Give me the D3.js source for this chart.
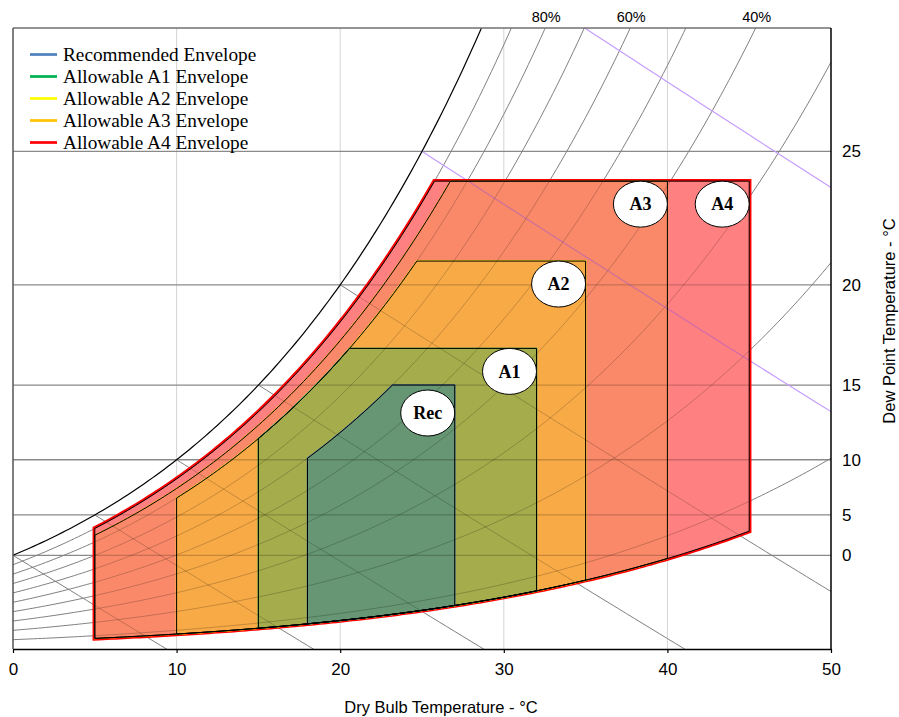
<!DOCTYPE html>
<html>
<head>
<meta charset="utf-8">
<script src="https://cdn.jsdelivr.net/npm/d3@7"></script>
<style>
  body { margin: 0; background: #fff; }
  svg { display: block; }
</style>
</head>
<body>
<svg id="chart" width="899" height="717"></svg>
<script>
// ---- Envelope definitions (ASHRAE thermal guideline classes) ----
const envelopeKeys  = ["Rec", "A1", "A2", "A3", "A4"];
const legendLabels  = ["Recommended Envelope", "Allowable A1 Envelope", "Allowable A2 Envelope",
                       "Allowable A3 Envelope", "Allowable A4 Envelope"];
const legendColors  = ["#4f81bd", "#00b050", "#ffff00", "#ffc000", "#ff0000"];
const fillColors    = ["#669673", "#a5ac4b", "#f8aa46", "#f98968", "#ff8080"];
const dryBulbMin    = [18, 15, 10, 5, 5];     // °C
const dryBulbMax    = [27, 32, 35, 40, 45];   // °C
const dewPointMax   = [15, 17, 21, 24, 24];   // °C
const rhMax         = [60, 80, 80, 85, 90];   // %
const rhMin         = [8, 8, 8, 8, 8];        // %

// ---- Chart grid ----
const rhCurves      = [10, 20, 30, 40, 50, 60, 70, 80, 90];
const rhLabelValues = [80, 60, 40];
const wetBulbGray   = [0, 5, 10, 15, 20];
const wetBulbPurple = [25, 30];
const dewPointTicks = [0, 5, 10, 15, 20, 25];
const dryBulbTicks  = [0, 10, 20, 30, 40, 50];
const dryBulbGrid   = [10, 20, 30, 40];

// ---- Psychrometric relations (sea-level pressure) ----
const P = 101.325; // kPa
const pws = t => 0.61094 * Math.exp(17.625 * t / (t + 243.04));
const humidity = (t, rh) => { const pw = rh / 100 * pws(t); return 0.622 * pw / (P - pw); };
const dewW = td => humidity(td, 100);
const tempAt = (rh, w) => {
  const pw = w * P / (0.622 + w);
  const L = Math.log(pw / (rh / 100) / 0.61094);
  return 243.04 * L / (17.625 - L);
};
const wetBulbW = (t, twb) =>
  ((2501 - 2.326 * twb) * dewW(twb) - 1.006 * (t - twb)) / (2501 + 1.86 * t - 4.186 * twb);

// ---- Layout ----
const svg = d3.select("#chart");
const plotL = 13, plotR = 831, plotT = 28, plotB = 649;
const x = d3.scaleLinear().domain([0, 50]).range([plotL, plotR]);
const y = d3.scaleLinear().domain([0, 0.025]).range([plotB, plotT]);
const line = d3.line().x(d => x(d[0])).y(d => y(d[1]));

const defs = svg.append("defs");
defs.append("clipPath").attr("id", "plotClip")
  .append("rect").attr("x", plotL).attr("y", plotT)
  .attr("width", plotR - plotL).attr("height", plotB - plotT);

function envelopePoints(i) {
  const t0 = dryBulbMin[i], t1 = dryBulbMax[i];
  const wTop = dewW(dewPointMax[i]);
  const tc = Math.max(t0, tempAt(rhMax[i], wTop));
  const pts = [[t0, humidity(t0, rhMin[i])]];
  d3.range(t0, tc, 0.25).forEach(t => pts.push([t, Math.min(wTop, humidity(t, rhMax[i]))]));
  pts.push([tc, wTop], [t1, wTop]);
  d3.range(t1, t0, -0.25).forEach(t => pts.push([t, humidity(t, rhMin[i])]));
  return pts;
}
const envelopes = envelopeKeys.map((k, i) => ({ key: k, i, pts: envelopePoints(i) }));
const outer = envelopes[envelopes.length - 1];
defs.append("clipPath").attr("id", "envClip")
  .append("path").attr("d", line(outer.pts) + "Z");

// Grid curve data
const rhData = rhCurves.map(rh => d3.range(0, 50.01, 0.25).map(t => [t, humidity(t, rh)]));
const wbData = twb => d3.range(twb, 50.01, 0.5).map(t => [t, wetBulbW(t, twb)]).filter(d => d[1] >= -0.002);
const satData = d3.range(0, 50.01, 0.25).map(t => [t, dewW(t)]);

function drawGrid(g, overlay) {
  const gray = overlay ? "rgba(0,0,0,0.2)" : "#808080";
  g.selectAll(".dp").data(dewPointTicks).join("line")
    .attr("class", "dp")
    .attr("x1", plotL).attr("x2", plotR)
    .attr("y1", d => y(dewW(d))).attr("y2", d => y(dewW(d)))
    .attr("stroke", overlay ? "rgba(0,0,0,0.2)" : "#8a8a8a").attr("stroke-width", 1.3);
  g.selectAll(".rh").data(rhData).join("path")
    .attr("class", "rh")
    .attr("d", line).attr("fill", "none").attr("stroke", gray).attr("stroke-width", 1);
  g.selectAll(".wb").data(wetBulbGray.map(wbData)).join("path")
    .attr("class", "wb")
    .attr("d", line).attr("fill", "none").attr("stroke", gray).attr("stroke-width", 1);
  g.selectAll(".wbp").data(wetBulbPurple.map(wbData)).join("path")
    .attr("class", "wbp")
    .attr("d", line).attr("fill", "none")
    .attr("stroke", overlay ? "rgba(150,80,220,0.45)" : "#c69cff").attr("stroke-width", 1.2);
}

// Base grid
const base = svg.append("g").attr("clip-path", "url(#plotClip)");
base.selectAll(".vg").data(dryBulbGrid).join("line")
  .attr("class", "vg")
  .attr("x1", d => x(d)).attr("x2", d => x(d)).attr("y1", plotT).attr("y2", plotB)
  .attr("stroke", "#d4d4d4").attr("stroke-width", 1);
drawGrid(base.append("g"), false);
base.append("path").datum(satData).attr("d", line)
  .attr("fill", "none").attr("stroke", "#000").attr("stroke-width", 1.2);

// Envelope fills, outermost first
const env = svg.append("g");
envelopes.slice().reverse().forEach(e => {
  env.append("path").attr("d", line(e.pts) + "Z")
    .attr("fill", "none").attr("stroke", legendColors[e.i])
    .attr("stroke-width", e.i === 4 ? 4.5 : 1.5).attr("stroke-linejoin", "miter");
  env.append("path").attr("d", line(e.pts) + "Z").attr("fill", fillColors[e.i]);
});

// Grid lines seen through the envelope fills
drawGrid(svg.append("g").attr("clip-path", "url(#envClip)"), true);

// Envelope outlines
svg.append("g").selectAll("path").data(envelopes).join("path")
  .attr("d", d => line(d.pts) + "Z")
  .attr("fill", "none").attr("stroke", "#000").attr("stroke-width", 1);

// ---- Frame and axes ----
svg.append("line").attr("x1", plotL).attr("x2", plotR).attr("y1", plotT).attr("y2", plotT)
  .attr("stroke", "#707070").attr("stroke-width", 1.5);
svg.append("line").attr("x1", plotL).attr("x2", plotL).attr("y1", plotT).attr("y2", plotB)
  .attr("stroke", "#555").attr("stroke-width", 1.5);
svg.append("line").attr("x1", plotR).attr("x2", plotR).attr("y1", plotT).attr("y2", plotB)
  .attr("stroke", "#000").attr("stroke-width", 1.5);

const xAxis = svg.append("g").attr("transform", `translate(0,${plotB})`)
  .call(d3.axisBottom(x).tickValues(dryBulbTicks).tickSize(4).tickSizeOuter(0).tickPadding(10));
xAxis.select(".domain").attr("stroke", "#000").attr("stroke-width", 1.5);
xAxis.selectAll(".tick line").attr("stroke", "#000").attr("stroke-width", 1.2);
xAxis.selectAll("text").attr("font-family", "'Liberation Sans', Arial, sans-serif")
  .attr("font-size", 17).attr("fill", "#000");

const yAxis = svg.append("g").attr("transform", `translate(${plotR},0)`)
  .call(d3.axisRight(y).tickValues(dewPointTicks.map(dewW))
    .tickFormat((w, i) => dewPointTicks[i]).tickSize(0).tickPadding(11));
yAxis.select(".domain").remove();
yAxis.selectAll("text").attr("font-family", "'Liberation Sans', Arial, sans-serif")
  .attr("font-size", 17).attr("fill", "#000");

// Relative humidity labels along the top
svg.append("g").selectAll("text").data(rhLabelValues).join("text")
  .attr("x", d => x(tempAt(d, 0.025)) + 1).attr("y", 22)
  .attr("text-anchor", "middle")
  .attr("font-family", "'Liberation Sans', Arial, sans-serif").attr("font-size", 14.5)
  .text(d => d + "%");

// Axis titles
svg.append("text").attr("x", 441).attr("y", 713).attr("text-anchor", "middle")
  .attr("font-family", "'Liberation Sans', Arial, sans-serif").attr("font-size", 16.5)
  .text("Dry Bulb Temperature - °C");
svg.append("text").attr("transform", "translate(895,321) rotate(-90)").attr("text-anchor", "middle")
  .attr("font-family", "'Liberation Sans', Arial, sans-serif").attr("font-size", 16.5)
  .text("Dew Point Temperature - °C");

// ---- Class badges at each envelope's upper-right corner ----
const badges = svg.append("g").selectAll("g").data(envelopes).join("g")
  .attr("transform", d => `translate(${x(dryBulbMax[d.i]) - 27},${y(dewW(dewPointMax[d.i])) + (d.i === 0 ? 28 : 23)})`);
badges.append("ellipse").attr("rx", 27).attr("ry", 23)
  .attr("fill", "#fff").attr("stroke", "#000").attr("stroke-width", 1);
badges.append("text").attr("text-anchor", "middle").attr("dy", "0.35em")
  .attr("font-family", "'Liberation Serif', 'Times New Roman', serif")
  .attr("font-weight", "bold").attr("font-size", 18)
  .text(d => d.key);

// ---- Legend ----
const legend = svg.append("g").selectAll("g").data(legendLabels).join("g")
  .attr("transform", (d, i) => `translate(0,${54.5 + 22 * i})`);
legend.append("line").attr("x1", 30).attr("x2", 57)
  .attr("stroke", (d, i) => legendColors[i]).attr("stroke-width", 2.7);
legend.append("text").attr("x", 63).attr("y", 6.8)
  .attr("font-family", "'Liberation Serif', 'Times New Roman', serif").attr("font-size", 19.3)
  .text(d => d);
</script>
</body>
</html>
